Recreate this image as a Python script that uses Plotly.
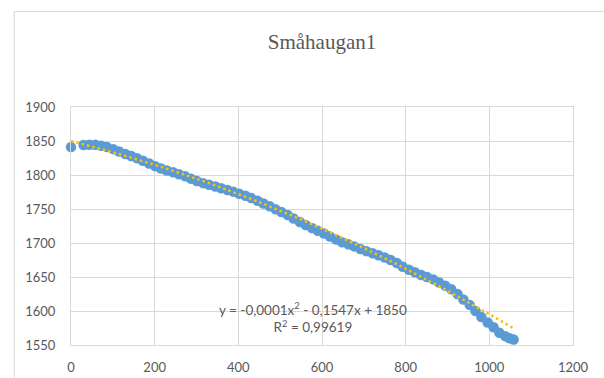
import numpy as np
import plotly.graph_objects as go

# Measured profile: distance along the line vs. elevation
distance = [0, 30, 44, 58, 72, 86, 101, 115, 130, 144, 158, 172, 187, 201, 215,
            229, 244, 258, 273, 287, 301, 316, 330, 345, 359, 374, 388, 402,
            417, 431, 446, 460, 475, 489, 503, 518, 532, 547, 561, 576, 590,
            605, 619, 634, 648, 663, 677, 692, 706, 721, 735, 750, 764, 779,
            793, 808, 822, 837, 851, 866, 880, 895, 909, 924, 938, 953, 967,
            981, 996, 1010, 1024, 1038, 1048, 1058]
elevation = [1841, 1844, 1844.5, 1844.5, 1843, 1841, 1838, 1834.5, 1831, 1828,
             1824.5, 1821, 1817, 1813, 1809.5, 1806.5, 1804, 1801, 1798, 1794.5,
             1791, 1788, 1785.5, 1783, 1780.5, 1778, 1775.5, 1772.5, 1769.5,
             1766, 1762, 1758, 1754, 1749.5, 1745.5, 1741, 1736, 1731, 1726.5,
             1722, 1718, 1714, 1709.5, 1705, 1701, 1698, 1695, 1691, 1688,
             1685, 1682, 1678.5, 1675, 1670.5, 1665, 1660.5, 1657, 1653, 1650,
             1646.5, 1642, 1637, 1632, 1625, 1617, 1609, 1600, 1591, 1583,
             1576, 1568, 1563, 1560, 1558]

# Second-order polynomial trendline, as stated in the equation label
trend_coef = [-0.0001, -0.1547, 1850]
trend_label = "y = -0,0001x<sup>2</sup> - 0,1547x + 1850<br>R<sup>2</sup> = 0,99619"

title_text = "Småhaugan1"
x_ticks = [0, 200, 400, 600, 800, 1000, 1200]
y_ticks = [1550, 1600, 1650, 1700, 1750, 1800, 1850, 1900]

tx = np.linspace(0, max(distance), 200)
ty = np.polyval(trend_coef, tx)

grid = "#D9D9D9"
text_col = "#595959"

fig = go.Figure()
fig.add_trace(go.Scatter(
    x=distance, y=elevation, mode="markers",
    marker=dict(size=10.5, color="#5B9BD5", line=dict(width=0)),
    showlegend=False, hoverinfo="x+y", cliponaxis=False,
))
fig.add_trace(go.Scatter(
    x=tx, y=ty, mode="lines",
    line=dict(color="#FFC000", width=2.5, dash="2.5px,3px"),
    showlegend=False, hoverinfo="skip", cliponaxis=False,
))

fig.add_annotation(
    x=578, y=1591, xref="x", yref="y", text=trend_label, showarrow=False,
    font=dict(family="Lato, Carlito, Liberation Sans, sans-serif", size=13.5, color=text_col),
    align="center",
)

fig.add_shape(
    type="rect", xref="paper", yref="paper",
    x0=-0.113, x1=1.3, y0=-0.3, y1=1.401,
    line=dict(color=grid, width=1), fillcolor="rgba(0,0,0,0)", layer="below",
)

fig.update_layout(
    width=604, height=378,
    margin=dict(l=71, r=31, t=107, b=33),
    paper_bgcolor="white", plot_bgcolor="white",
    title=dict(
        text=title_text, x=0.5, xref="paper", xanchor="center",
        y=1 - 42 / 378, yref="container", yanchor="middle",
        font=dict(family="Liberation Serif, Times New Roman, serif", size=21, color=text_col),
    ),
    font=dict(family="Lato, Carlito, Liberation Sans, sans-serif", size=13, color=text_col),
)
fig.update_xaxes(
    range=[0, 1200], tickvals=x_ticks, showgrid=True, gridcolor=grid, gridwidth=1,
    zeroline=False, showline=True, mirror=True, linecolor=grid, linewidth=1,
    ticks="", ticklabelstandoff=10, automargin=False,
)
fig.update_yaxes(
    range=[1550, 1900], tickvals=y_ticks, showgrid=True, gridcolor=grid, gridwidth=1,
    zeroline=False, showline=True, mirror=True, linecolor=grid, linewidth=1,
    ticks="", ticklabelstandoff=12, automargin=False,
)

fig.write_html("out.html")
